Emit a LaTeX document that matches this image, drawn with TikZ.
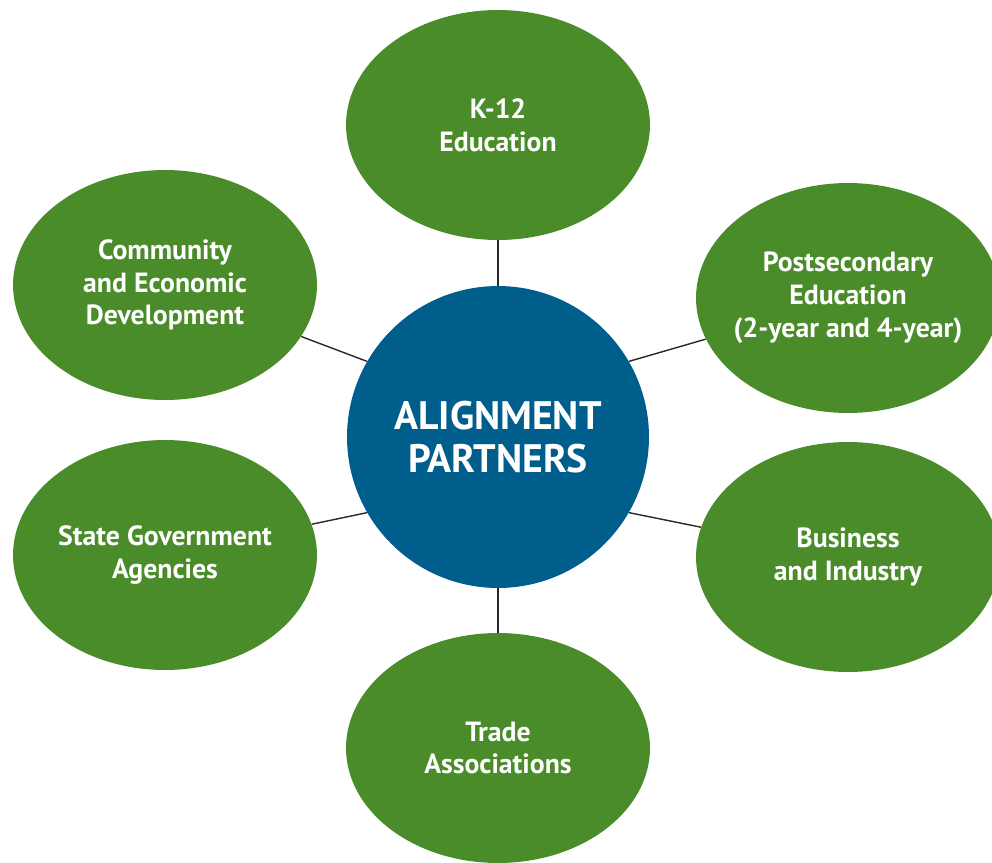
\documentclass[tikz,border=0pt]{standalone}
\usepackage{fontspec}
\setmainfont{PT Sans}
\usepackage{tikz}
\usetikzlibrary{shapes.geometric}

\definecolor{partnergreen}{RGB}{74,139,42}
\definecolor{partnerblue}{RGB}{0,94,140}
\definecolor{spokegray}{RGB}{40,40,40}

\begin{document}
\begin{tikzpicture}[x=0.02cm, y=-0.02cm,
    every node/.style={text=white, font=\bfseries\fontsize{15.8}{18.7}\selectfont, align=center},
    partner/.style={ellipse, fill=partnergreen, minimum width=6.08cm, minimum height=4.6cm, inner sep=-8pt},
    hub/.style={circle, fill=partnerblue, minimum size=6.04cm, inner sep=0pt,
        font=\bfseries\fontsize{22.6}{24.5}\selectfont},
    spoke/.style={draw=spokegray, line width=0.8pt}]

\useasboundingbox (0,0) rectangle (992,863);

% Centre
\node[hub] (hub) at (498,437) {ALIGNMENT\\PARTNERS};

% Partner ellipses
\node[partner] (k12) at (498,125) {K-12\\Education};
\node[partner] (post) at (848,298) {Postsecondary\\Education\\(2-year and 4-year)};
\node[partner] (biz) at (848,557) {Business\\and Industry};
\node[partner] (trade) at (498,748) {Trade\\Associations};
\node[partner] (state) at (165,555) {State Government\\Agencies};
\node[partner] (comm) at (165,285) {Community\\and Economic\\Development};

% Spokes
\draw[spoke] (hub) -- (k12);
\draw[spoke] (hub.30) -- (post);
\draw[spoke] (hub.-30) -- (biz);
\draw[spoke] (hub) -- (trade);
\draw[spoke] (hub.210) -- (state);
\draw[spoke] (hub.150) -- (comm);

\end{tikzpicture}
\end{document}
